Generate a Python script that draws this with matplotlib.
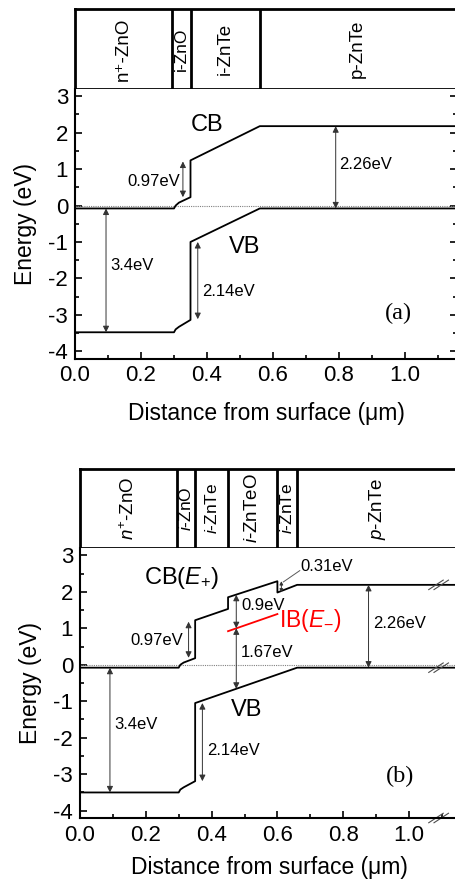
import matplotlib
matplotlib.use("Agg")
import matplotlib.pyplot as plt

plt.rcParams['font.family'] = ['Liberation Sans', 'DejaVu Sans']
plt.rcParams['mathtext.fontset'] = 'custom'
plt.rcParams['mathtext.rm'] = 'Liberation Sans'
plt.rcParams['mathtext.it'] = 'Liberation Sans:italic'
plt.rcParams['mathtext.bf'] = 'Liberation Sans:bold'

# ---------------- data ----------------
# panel (a)
layers_a = [0.0, 0.295, 0.35, 0.56, 1.2]
labels_a = ["n\u207a-ZnO", "i-ZnO", "i-ZnTe", "p-ZnTe"]
xa_cb = [0.0, 0.30, 0.305, 0.315, 0.35, 0.35, 0.56, 1.2]
ya_cb = [-0.08, -0.08, 0.0, 0.08, 0.23, 1.24, 2.18, 2.18]
xa_vb = [0.0, 0.30, 0.305, 0.315, 0.35, 0.35, 0.56, 1.2]
ya_vb = [-3.48, -3.48, -3.40, -3.33, -3.14, -1.0, -0.08, -0.08]

# panel (b)
layers_b = [0.0, 0.295, 0.35, 0.45, 0.60, 0.66, 1.2]
labels_b = [r"$\mathit{n}^{+}$-ZnO", r"$\mathit{i}$-ZnO", r"$\mathit{i}$-ZnTe",
            r"$\mathit{i}$-ZnTeO", r"$\mathit{i}$-ZnTe", r"$\mathit{p}$-ZnTe"]
xb_cb = [0.0, 0.30, 0.305, 0.315, 0.35, 0.35, 0.45, 0.45, 0.60, 0.60, 0.66, 1.2]
yb_cb = [-0.08, -0.08, 0.0, 0.06, 0.18, 1.22, 1.53, 1.85, 2.29, 1.98, 2.19, 2.19]
xb_vb = [0.0, 0.30, 0.305, 0.315, 0.35, 0.35, 0.66, 1.2]
yb_vb = [-3.5, -3.5, -3.42, -3.36, -3.19, -1.05, -0.08, -0.08]
xb_ib = [0.45, 0.60]
yb_ib = [0.92, 1.39]

W, H = 455, 882
fig = plt.figure(figsize=(W / 100, H / 100), dpi=100)


def frac(l, t, r, b):
    return [l / W, (H - b) / H, (r - l) / W, (b - t) / H]


def arrow(ax, x, y0, y1, ms=9):
    ax.annotate('', xy=(x, y1), xytext=(x, y0),
                arrowprops=dict(arrowstyle='<|-|>', color='0.2', lw=0.7,
                                mutation_scale=ms, shrinkA=0, shrinkB=0))


def style_axes(ax, xmax, right_ticks, xpad):
    ax.set_xlim(0, xmax)
    ax.set_ylim(-4.2, 3.2)
    ax.set_xticks([0.0, 0.2, 0.4, 0.6, 0.8, 1.0])
    ax.set_xticklabels(["0.0", "0.2", "0.4", "0.6", "0.8", "1.0"])
    ax.set_xticks([0.1, 0.3, 0.5, 0.7, 0.9, 1.1], minor=True)
    ax.set_yticks([-4, -3, -2, -1, 0, 1, 2, 3])
    ax.set_yticklabels(["-4", "-3", "-2", "-1", "0", "1", "2", "3"])
    ax.set_yticks([-3.5, -2.5, -1.5, -0.5, 0.5, 1.5, 2.5], minor=True)
    ax.tick_params(which='both', direction='in', labelsize=16, width=1.2,
                   right=right_ticks, top=False)
    ax.tick_params(which='major', length=5, pad=5)
    ax.tick_params(which='minor', length=3)
    for s in ax.spines.values():
        s.set_linewidth(1.5)
    ax.spines['top'].set_visible(False)
    ax.spines['right'].set_visible(False)
    ax.set_xlabel("Distance from surface (\u03bcm)", fontsize=16.5, labelpad=xpad)
    ax.set_ylabel("Energy (eV)", fontsize=16.5, labelpad=8)


def strip(ax, bounds, labels, xmax, sizes):
    ax.set_xlim(0, xmax)
    ax.set_ylim(0, 1)
    ax.set_xticks([])
    ax.set_yticks([])
    for s in ax.spines.values():
        s.set_linewidth(2)
    ax.spines['right'].set_visible(False)
    for b in bounds[1:-1]:
        ax.axvline(b, color='k', lw=2)
    vis_right = 1.15
    for i, lab in enumerate(labels):
        lo, hi = bounds[i], min(bounds[i + 1], vis_right)
        ax.text((lo + hi) / 2, 0.5, lab, rotation=90, ha='center', va='center',
                fontsize=sizes[i])


# ---------------- panel (a) ----------------
xmax_a = (457 - 75) / 330
sa = fig.add_axes(frac(75, 9, 457, 89))
strip(sa, layers_a, labels_a, xmax_a, [13.5, 12.5, 13.5, 13.5])
axa = fig.add_axes(frac(75, 89, 457, 358.5))
style_axes(axa, xmax_a, True, 11)
axa.axhline(0, color='0.5', lw=0.8, ls=(0, (1, 1)))
axa.plot(xa_cb, ya_cb, color='k', lw=1.3)
axa.plot(xa_vb, ya_vb, color='k', lw=1.3)
arrow(axa, 0.327, 0.23, 1.21)
arrow(axa, 0.79, -0.08, 2.18)
arrow(axa, 0.094, -3.48, -0.08)
arrow(axa, 0.372, -3.12, -1.0)
fs_ann = 12
axa.text(0.318, 0.65, "0.97eV", ha='right', va='center', fontsize=fs_ann)
axa.text(0.80, 1.13, "2.26eV", ha='left', va='center', fontsize=fs_ann)
axa.text(0.106, -1.66, "3.4eV", ha='left', va='center', fontsize=fs_ann)
axa.text(0.385, -2.35, "2.14eV", ha='left', va='center', fontsize=fs_ann)
axa.text(0.40, 2.2, "CB", ha='center', va='center', fontsize=17)
axa.text(0.515, -1.14, "VB", ha='center', va='center', fontsize=17)
axa.text(0.98, -2.97, "(a)", ha='center', va='center', fontsize=17.5,
         family='Liberation Serif')

# ---------------- panel (b) ----------------
xmax_b = 1.2
sb = fig.add_axes(frac(80, 469, 80 + 329 * xmax_b, 548))
strip(sb, layers_b, labels_b, xmax_b, [13.5, 12.5, 12.5, 13.5, 12.5, 13.5])
axb = fig.add_axes(frac(80, 548, 80 + 329 * xmax_b, 818))
style_axes(axb, xmax_b, False, 7)
axb.xaxis.label.set_position((1.15 / 2 / xmax_b, 0))
axb.axhline(0, color='0.5', lw=0.8, ls=(0, (1, 1)))
axb.plot(xb_cb, yb_cb, color='k', lw=1.3)
axb.plot(xb_vb, yb_vb, color='k', lw=1.3)
axb.plot(xb_ib, yb_ib, color='red', lw=1.3)
arrow(axb, 0.33, 0.19, 1.18)
arrow(axb, 0.475, 1.0, 1.92)
arrow(axb, 0.475, -0.66, 1.0)
arrow(axb, 0.877, -0.08, 2.19)
arrow(axb, 0.091, -3.5, -0.08)
arrow(axb, 0.372, -3.19, -1.05)
arrow(axb, 0.612, 1.98, 2.29, ms=5)
axb.plot([0.618, 0.668], [2.27, 2.58], color='0.35', lw=0.7)
axb.text(0.313, 0.66, "0.97eV", ha='right', va='center', fontsize=fs_ann)
axb.text(0.492, 1.62, "0.9eV", ha='left', va='center', fontsize=fs_ann)
axb.text(0.49, 0.33, "1.67eV", ha='left', va='center', fontsize=fs_ann)
axb.text(0.89, 1.12, "2.26eV", ha='left', va='center', fontsize=fs_ann)
axb.text(0.104, -1.65, "3.4eV", ha='left', va='center', fontsize=fs_ann)
axb.text(0.387, -2.34, "2.14eV", ha='left', va='center', fontsize=fs_ann)
axb.text(0.669, 2.7, "0.31eV", ha='left', va='center', fontsize=fs_ann)
axb.text(0.31, 2.39, r"CB($\mathit{E}_{+}$)", ha='center', va='center', fontsize=17)
axb.text(0.70, 1.2, r"IB($\mathit{E}_{-}$)", ha='center', va='center', fontsize=16.5,
         color='red')
axb.text(0.507, -1.25, "VB", ha='center', va='center', fontsize=17)
axb.text(0.973, -3.06, "(b)", ha='center', va='center', fontsize=17.5,
         family='Liberation Serif')
# axis break marks
for yb in [2.19, -0.08, -4.2]:
    for dx in [-0.008, 0.008]:
        xc = 1.09 + dx
        axb.plot([xc - 0.022, xc + 0.022], [yb - 0.13, yb + 0.13], color='0.3',
                 lw=0.8, clip_on=False)

fig.savefig("out.png", dpi=100)
